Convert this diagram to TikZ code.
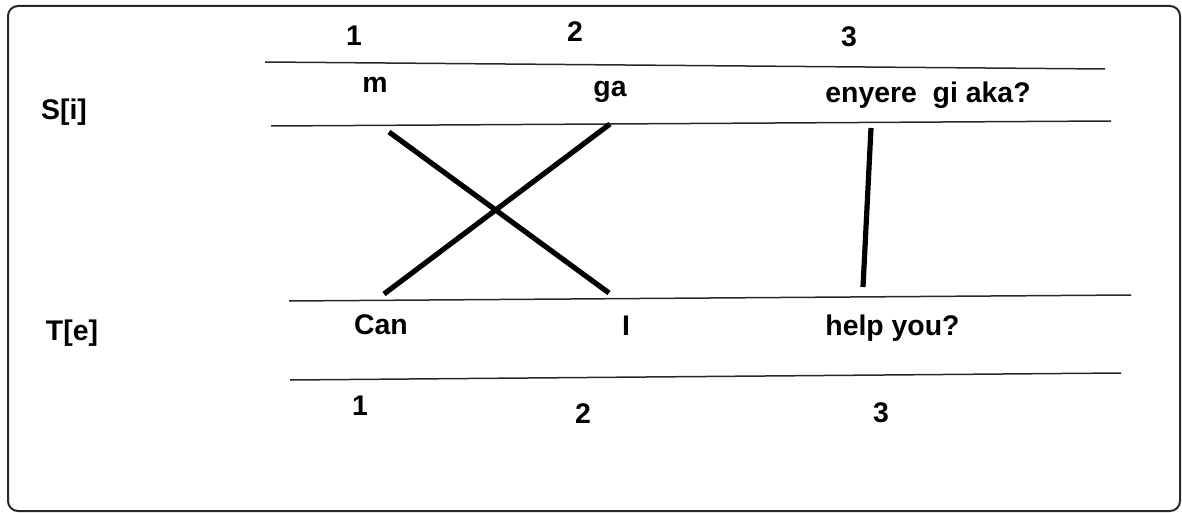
\documentclass[tikz,border=0pt]{standalone}
\usepackage{fontspec}
\setmainfont{Liberation Sans}
\usepackage{tikz}
\usetikzlibrary{positioning,calc}
\definecolor{ruleline}{RGB}{40,40,40}

\tikzset{
  word/.style={font=\fontsize{14.2}{17}\selectfont\bfseries, anchor=base, inner sep=0pt},
  rowlabel/.style={word},
  idx/.style={word},
  rowrule/.style={draw=ruleline, line width=0.75pt},
  align/.style={line width=2.6pt, black}
}

\begin{document}
\begin{tikzpicture}[x=0.5pt, y=-0.5pt]
\useasboundingbox (0,0) rectangle (1182,513);

% Frame
\draw[ruleline, line width=1pt, rounded corners=5pt] (8,6) rectangle (1180,511);

% Row labels
\node[rowlabel] (si) at (64,120) {S[i]};
\node[rowlabel] (te) at (72,340) {T[e]};

% Source indices
\node[idx] (s1) at (354,46) {1};
\node[idx] (s2) at (575,42) {2};
\node[idx] (s3) at (849,47) {3};

% Source rules
\draw[rowrule] (265,62) -- (1105,69);
\draw[rowrule] (271,126) -- (1111,121);

% Source words
\node[word] (sm) at (375,93) {m};
\node[word] (sga) at (610,97) {ga};
\node[word, anchor=base west] (senyere) at (825,103) {enyere\ \ gi aka?};

% Target rules
\draw[rowrule] (289,301) -- (1131,295);
\draw[rowrule] (290,380) -- (1121,373);

% Target words
\node[word] (tcan) at (381,334) {Can};
\node[word] (ti) at (626,335) {I};
\node[word, anchor=base west] (thelp) at (825,335) {help you?};

% Target indices
\node[idx] (t1) at (360,415) {1};
\node[idx] (t2) at (583,423) {2};
\node[idx] (t3) at (881,422) {3};

% Alignment ends
\coordinate (sm-a) at (389,132);
\coordinate (sga-a) at (610,124);
\coordinate (senyere-a) at (871,128);
\coordinate (tcan-a) at (384,294);
\coordinate (ti-a) at (609,293);
\coordinate (thelp-a) at (863,287);

% Alignments
\draw[align] (sm-a) -- (ti-a);
\draw[align] (sga-a) -- (tcan-a);
\draw[align] (senyere-a) -- (thelp-a);

\end{tikzpicture}
\end{document}
